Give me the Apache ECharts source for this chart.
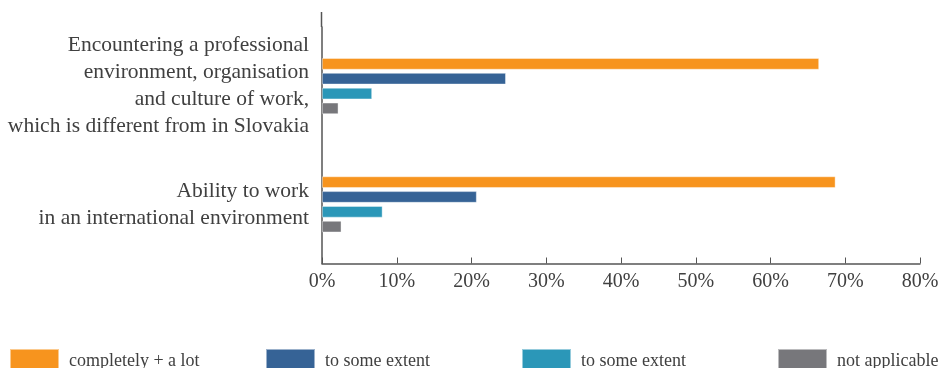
<!DOCTYPE html>
<html>
<head>
<meta charset="utf-8">
<script src="https://cdn.jsdelivr.net/npm/echarts@6/dist/echarts.min.js"></script>
<style>
html,body{margin:0;padding:0;background:#fff;}
#chart{width:947px;height:368px;}
</style>
</head>
<body>
<div id="chart"></div>
<script>
var categories = [
  "Encountering a professional\nenvironment, organisation\nand culture of work,\nwhich is different from in Slovakia",
  "Ability to work\nin an international environment"
];
var seriesNames = ["completely + a lot", "to some extent", "to some extent", "not applicable"];
var completelyALot = [66.5, 68.7];
var someExtentA = [24.6, 20.7];
var someExtentB = [6.7, 8.1];
var notApplicable = [2.2, 2.6];
var tickLabels = ["0%", "10%", "20%", "30%", "40%", "50%", "60%", "70%", "80%"];
var colors = ["#F7941E", "#366396", "#2B97B8", "#77777B"];

var values = [completelyALot, someExtentA, someExtentB, notApplicable];
var fontFam = "'Liberation Serif', 'Times New Roman', serif";

var chart = echarts.init(document.getElementById('chart'), null, {renderer: 'canvas'});

var legendLefts = [9, 265, 521, 777];
var legends = seriesNames.map(function (n, i) {
  return {
    left: legendLefts[i],
    top: 348,
    padding: 0,
    itemWidth: 49,
    itemHeight: 24,
    icon: 'rect',
    selectedMode: false,
    data: [{name: n, itemStyle: {color: colors[i]}}],
    textStyle: {fontFamily: fontFam, fontSize: 18, color: '#404040', padding: [2, 0, 0, 5]}
  };
});

chart.setOption({
  animation: false,
  grid: {left: 322, right: 27, top: 27, bottom: 104.5, containLabel: false},
  legend: legends,
  xAxis: {
    type: 'value',
    min: 0, max: 80, interval: 10,
    axisLine: {show: true, lineStyle: {color: '#555', width: 1.5}},
    axisTick: {show: true, inside: true, length: 6, lineStyle: {color: '#555', width: 1}},
    splitLine: {show: false},
    axisLabel: {
      margin: 8,
      fontFamily: fontFam, fontSize: 20, color: '#404040',
      formatter: function (v) { return tickLabels[Math.round(v / 10)]; }
    }
  },
  yAxis: {
    type: 'category',
    data: categories,
    inverse: true,
    axisLine: {show: true, lineStyle: {color: '#555', width: 1.5}},
    axisTick: {show: false},
    axisLabel: {
      margin: 13,
      fontFamily: fontFam, fontSize: 21.5, color: '#404040',
      lineHeight: 27, align: 'right'
    }
  },
  graphic: [{
    type: 'line',
    shape: {x1: 321.5, y1: 12, x2: 321.5, y2: 27},
    style: {stroke: '#555', lineWidth: 1.5}
  }],
  series: values.map(function (arr, i) {
    return {
      name: seriesNames[i],
      type: 'bar',
      data: arr,
      barWidth: 11.5,
      barGap: '29%',
      itemStyle: {color: colors[i], borderColor: 'rgba(255,255,255,0.5)', borderWidth: 0.8}
    };
  })
});
</script>
</body>
</html>
